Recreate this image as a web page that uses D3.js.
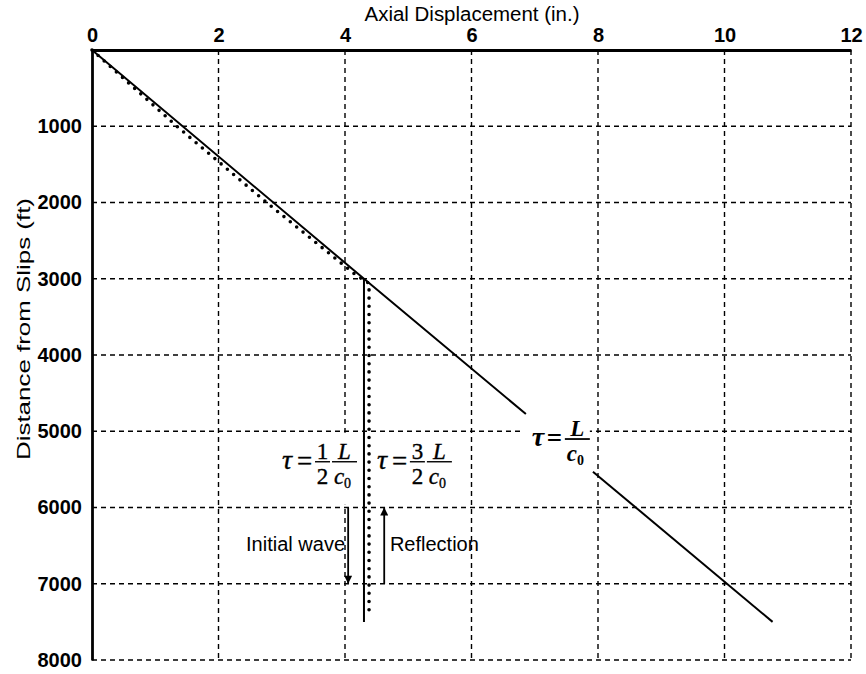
<!DOCTYPE html>
<html>
<head>
<meta charset="utf-8">
<script src="https://cdn.jsdelivr.net/npm/d3@7"></script>
<style>
  html, body { margin: 0; padding: 0; background: #fff; }
  svg { display: block; }
</style>
</head>
<body>
<svg id="chart" width="866" height="674"></svg>
<script>
// Axial displacement (in.) vs. distance from slips (ft)

const xTicks = [0, 2, 4, 6, 8, 10, 12];
const yTicks = [1000, 2000, 3000, 4000, 5000, 6000, 7000, 8000];

// solid line: broken where the tau = L/c0 label sits
const solidA = [[0, 0], [4.3, 3000], [6.86, 4775]];
const solidB = [[7.92, 5530], [10.76, 7500]];
// solid vertical drop below the kink
const solidV = [[4.3, 3000], [4.3, 7500]];
// dotted curve
const dotted = [[0, 0], [1.34, 1000], [2.76, 2000], [4.17, 2950], [4.38, 3060], [4.38, 7400]];

// arrows: [x, from, to]
const arrowInitial = [4.05, 6000, 7000];
const arrowReflect = [4.62, 7000, 6000];

const textLabels = [
  { text: 'Initial wave', x: 4.0,  y: 6480, anchor: 'end' },
  { text: 'Reflection',   x: 4.71, y: 6480, anchor: 'start' }
];

// math labels: anchor at left of tau, fraction bar level
const mathLabels = [
  { x: 3.02, y: 5400, fracs: [['1', '2'], ['L', 'c']], bold: false },
  { x: 4.52, y: 5400, fracs: [['3', '2'], ['L', 'c']], bold: false },
  { x: 6.97, y: 5102, fracs: [['L', 'c']], bold: true }
];

const svg = d3.select('#chart');

const x = d3.scaleLinear().domain([0, 12]).range([92, 851]);
const y = d3.scaleLinear().domain([0, 8000]).range([50, 660]);

const sans = 'Arial, "Liberation Sans", sans-serif';
const serif = '"Times New Roman", "Liberation Serif", serif';

// ── grid ─────────────────────────────────────────────────────────────────
const grid = svg.append('g');
grid.selectAll('line.vg')
  .data(xTicks.filter(d => d > 0))
  .enter().append('line')
  .attr('x1', d => x(d)).attr('x2', d => x(d))
  .attr('y1', y(0)).attr('y2', y(8000))
  .attr('stroke', '#000').attr('stroke-width', 1.4)
  .attr('stroke-dasharray', '5,4');
grid.selectAll('line.hg')
  .data(yTicks)
  .enter().append('line')
  .attr('x1', x(0)).attr('x2', x(12))
  .attr('y1', d => y(d)).attr('y2', d => y(d))
  .attr('stroke', '#000').attr('stroke-width', 1.4)
  .attr('stroke-dasharray', '5,4');

// ── axes ─────────────────────────────────────────────────────────────────
const topAx = svg.append('g')
  .attr('transform', `translate(0,${y(0)})`)
  .call(d3.axisTop(x).tickValues(xTicks).tickSize(0).tickPadding(8).tickFormat(d3.format('d')));
topAx.select('.domain').attr('stroke', '#000').attr('stroke-width', 2.8);
topAx.selectAll('text')
  .attr('font-family', sans).attr('font-size', 20).attr('font-weight', 'bold').attr('fill', '#000');

const leftAx = svg.append('g')
  .attr('transform', `translate(${x(0)},0)`)
  .call(d3.axisLeft(y).tickValues(yTicks).tickSize(0).tickPadding(10).tickFormat(d3.format('d')));
leftAx.select('.domain').attr('stroke', '#000').attr('stroke-width', 2.8);
leftAx.selectAll('text')
  .attr('font-family', sans).attr('font-size', 20).attr('font-weight', 'bold').attr('fill', '#000');

svg.append('text')
  .attr('x', 472).attr('y', 21)
  .attr('text-anchor', 'middle')
  .attr('font-family', sans).attr('font-size', 20)
  .attr('textLength', 215).attr('lengthAdjust', 'spacingAndGlyphs')
  .text('Axial Displacement (in.)');

svg.append('text')
  .attr('transform', 'translate(30,329) rotate(-90)')
  .attr('text-anchor', 'middle')
  .attr('font-family', sans).attr('font-size', 19)
  .attr('textLength', 262).attr('lengthAdjust', 'spacingAndGlyphs')
  .text('Distance from Slips (ft)');

// ── label backgrounds (hide grid behind math) ────────────────────────────
const labelBg = svg.append('g');

// ── lines ────────────────────────────────────────────────────────────────
const line = d3.line().x(d => x(d[0])).y(d => y(d[1]));

svg.append('path').datum(dotted)
  .attr('d', line).attr('fill', 'none')
  .attr('stroke', '#000').attr('stroke-width', 3.6)
  .attr('stroke-linecap', 'round')
  .attr('stroke-dasharray', '0,8.2');

[solidA, solidB, solidV].forEach(seg => {
  svg.append('path').datum(seg)
    .attr('d', line).attr('fill', 'none')
    .attr('stroke', '#000').attr('stroke-width', 2);
});

// ── arrows ───────────────────────────────────────────────────────────────
svg.append('defs').append('marker')
  .attr('id', 'arrow')
  .attr('viewBox', '0 0 10 10')
  .attr('refX', 10).attr('refY', 5)
  .attr('markerWidth', 9).attr('markerHeight', 8)
  .attr('markerUnits', 'userSpaceOnUse')
  .attr('orient', 'auto')
  .append('path').attr('d', 'M0,0 L10,5 L0,10 Z').attr('fill', '#000');

[arrowInitial, arrowReflect].forEach(a => {
  svg.append('line')
    .attr('x1', x(a[0])).attr('x2', x(a[0]))
    .attr('y1', y(a[1])).attr('y2', y(a[2]))
    .attr('stroke', '#000').attr('stroke-width', 1.8)
    .attr('marker-end', 'url(#arrow)');
});

svg.selectAll('text.lbl')
  .data(textLabels)
  .enter().append('text')
  .attr('class', 'lbl')
  .attr('x', d => x(d.x)).attr('y', d => y(d.y))
  .attr('dy', '0.35em')
  .attr('text-anchor', d => d.anchor)
  .attr('font-family', sans).attr('font-size', 20)
  .text(d => d.text);

// ── math labels ──────────────────────────────────────────────────────────
function italicOf(s) { return /[A-Za-z]/.test(s); }

mathLabels.forEach(m => {
  const x0 = x(m.x), yb = y(m.y);
  const g = svg.append('g')
    .attr('font-family', serif).attr('font-size', 23)
    .attr('font-weight', m.bold ? 'bold' : 'normal')
    .attr('stroke', '#000').attr('stroke-width', m.bold ? 0 : 0.35);
  const two = m.fracs.length > 1;
  const endX = x0 + 32 + m.fracs.reduce((s, f) => s + (f[0] === 'L' ? 25 : 15) + 2, 0);
  labelBg.append('rect')
    .attr('x', two ? x0 - 4 : x0 - 10)
    .attr('y', two ? yb - 29 : yb - 21)
    .attr('width', (two ? endX - x0 + 4 : endX - x0 + 8))
    .attr('height', two ? 72 : 52)
    .attr('fill', '#fff');

  g.append('text').attr('x', x0 - 1).attr('y', yb + 7)
    .attr('font-size', 28).attr('font-style', 'italic').text('\u03C4');
  g.append('text').attr('x', x0 + 14).attr('y', yb + 8)
    .attr('font-size', 27).text('=');
  let cx = x0 + 32;
  m.fracs.forEach(f => {
    const w = f[0] === 'L' ? 25 : 15;
    const c = cx + w / 2;
    g.append('line')
      .attr('x1', cx).attr('x2', cx + w)
      .attr('y1', yb).attr('y2', yb)
      .attr('stroke', '#000').attr('stroke-width', m.bold ? 1.8 : 1.4);
    g.append('text').attr('x', c).attr('y', yb - 3)
      .attr('text-anchor', 'middle')
      .attr('font-style', italicOf(f[0]) ? 'italic' : 'normal')
      .text(f[0]);
    const den = g.append('text').attr('x', f[1] === 'c' ? c - 2 : c).attr('y', yb + 22)
      .attr('text-anchor', 'middle');
    if (f[1] === 'c') {
      den.append('tspan').attr('font-style', 'italic').text('c');
      den.append('tspan').attr('font-size', 14).attr('dy', 4).text('0');
    } else {
      den.text(f[1]);
    }
    cx += w + 2;
  });
});
</script>
</body>
</html>
